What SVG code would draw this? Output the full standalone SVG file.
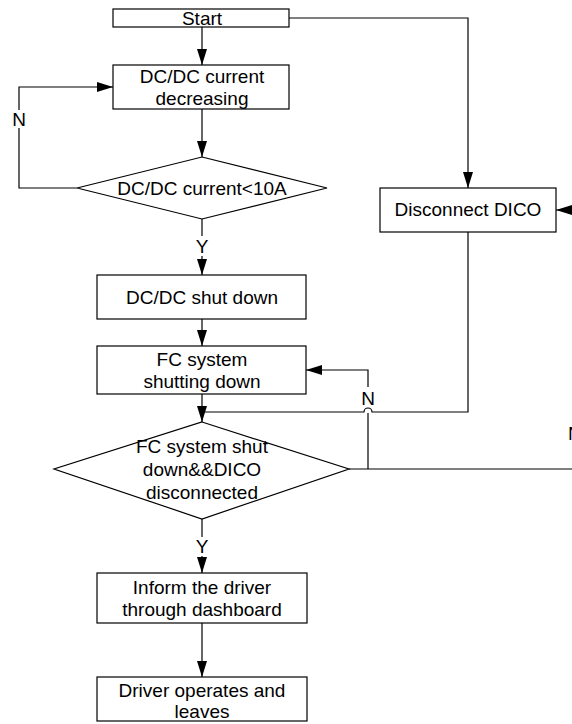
<svg xmlns="http://www.w3.org/2000/svg" width="572" height="724" viewBox="0 0 572 724">
<style>
.box{fill:#fff;stroke:#000;stroke-width:1.2}
.ln{fill:none;stroke:#000;stroke-width:1.2}
.t{font-family:"Liberation Sans",Arial,sans-serif;font-size:19px;fill:#000;text-anchor:middle}
</style>
<defs>
<marker id="ah" markerUnits="userSpaceOnUse" markerWidth="16" markerHeight="10" refX="16" refY="5" orient="auto" viewBox="0 0 16 10">
<path d="M0,0 L16,5 L0,10 z" fill="#000"/>
</marker>
</defs>
<rect width="572" height="724" fill="#fff"/>
<g id="connectors">
<path class="ln" d="M202,27 V65" marker-end="url(#ah)"/>
<path class="ln" d="M202,109 V157" marker-end="url(#ah)"/>
<path class="ln" d="M77,188 H19 V128"/>
<path class="ln" d="M19,110 V87 H113" marker-end="url(#ah)"/>
<path class="ln" d="M202,219 V236"/>
<path class="ln" d="M202,256 V275" marker-end="url(#ah)"/>
<path class="ln" d="M202,319 V346" marker-end="url(#ah)"/>
<path class="ln" d="M202,394 V422" marker-end="url(#ah)"/>
<path class="ln" d="M289,18 H468 V188" marker-end="url(#ah)"/>
<path class="ln" d="M468,232 V412 H372 A4,4 0 0 0 364,412 H202"/>
<path class="ln" d="M368,469 V413"/>
<path class="ln" d="M368,387 V370 H306" marker-end="url(#ah)"/>
<path class="ln" d="M349,469 H620 V210 H556" marker-end="url(#ah)"/>
<path class="ln" d="M202,519 V537"/>
<path class="ln" d="M202,556 V573" marker-end="url(#ah)"/>
<path class="ln" d="M202,623 V677" marker-end="url(#ah)"/>
<text class="t" x="19" y="126">N</text>
<text class="t" x="202" y="253">Y</text>
<text class="t" x="368" y="405">N</text>
<text class="t" x="568" y="440" style="text-anchor:start">N</text>
<text class="t" x="202" y="553">Y</text>
</g>
<g id="start">
<rect class="box" x="113" y="9" width="176" height="18"/>
<text class="t" x="202" y="25">Start</text>
</g>
<g id="dc-decreasing">
<rect class="box" x="113" y="65" width="176" height="44"/>
<text class="t" x="202" y="83">DC/DC current</text>
<text class="t" x="202" y="105">decreasing</text>
</g>
<g id="dc-check">
<polygon class="box" points="202,157 327,188 202,219 77,188"/>
<text class="t" x="202" y="195">DC/DC current&lt;10A</text>
</g>
<g id="disconnect-dico">
<rect class="box" x="380" y="188" width="176" height="44"/>
<text class="t" x="468" y="216">Disconnect DICO</text>
</g>
<g id="dc-shutdown">
<rect class="box" x="97" y="275" width="209" height="44"/>
<text class="t" x="202" y="304">DC/DC shut down</text>
</g>
<g id="fc-shutting">
<rect class="box" x="97" y="346" width="209" height="48"/>
<text class="t" x="202" y="366">FC system</text>
<text class="t" x="202" y="388">shutting down</text>
</g>
<g id="fc-check">
<polygon class="box" points="202,422 349,469 202,519 54,469"/>
<text class="t" x="202" y="453">FC system shut</text>
<text class="t" x="202" y="476">down&amp;&amp;DICO</text>
<text class="t" x="202" y="499">disconnected</text>
</g>
<g id="inform">
<rect class="box" x="97" y="573" width="210" height="50"/>
<text class="t" x="202" y="594">Inform the driver</text>
<text class="t" x="202" y="616">through dashboard</text>
</g>
<g id="driver-leaves">
<rect class="box" x="97" y="677" width="210" height="44"/>
<text class="t" x="202" y="697">Driver operates and</text>
<text class="t" x="202" y="718">leaves</text>
</g>
</svg>
